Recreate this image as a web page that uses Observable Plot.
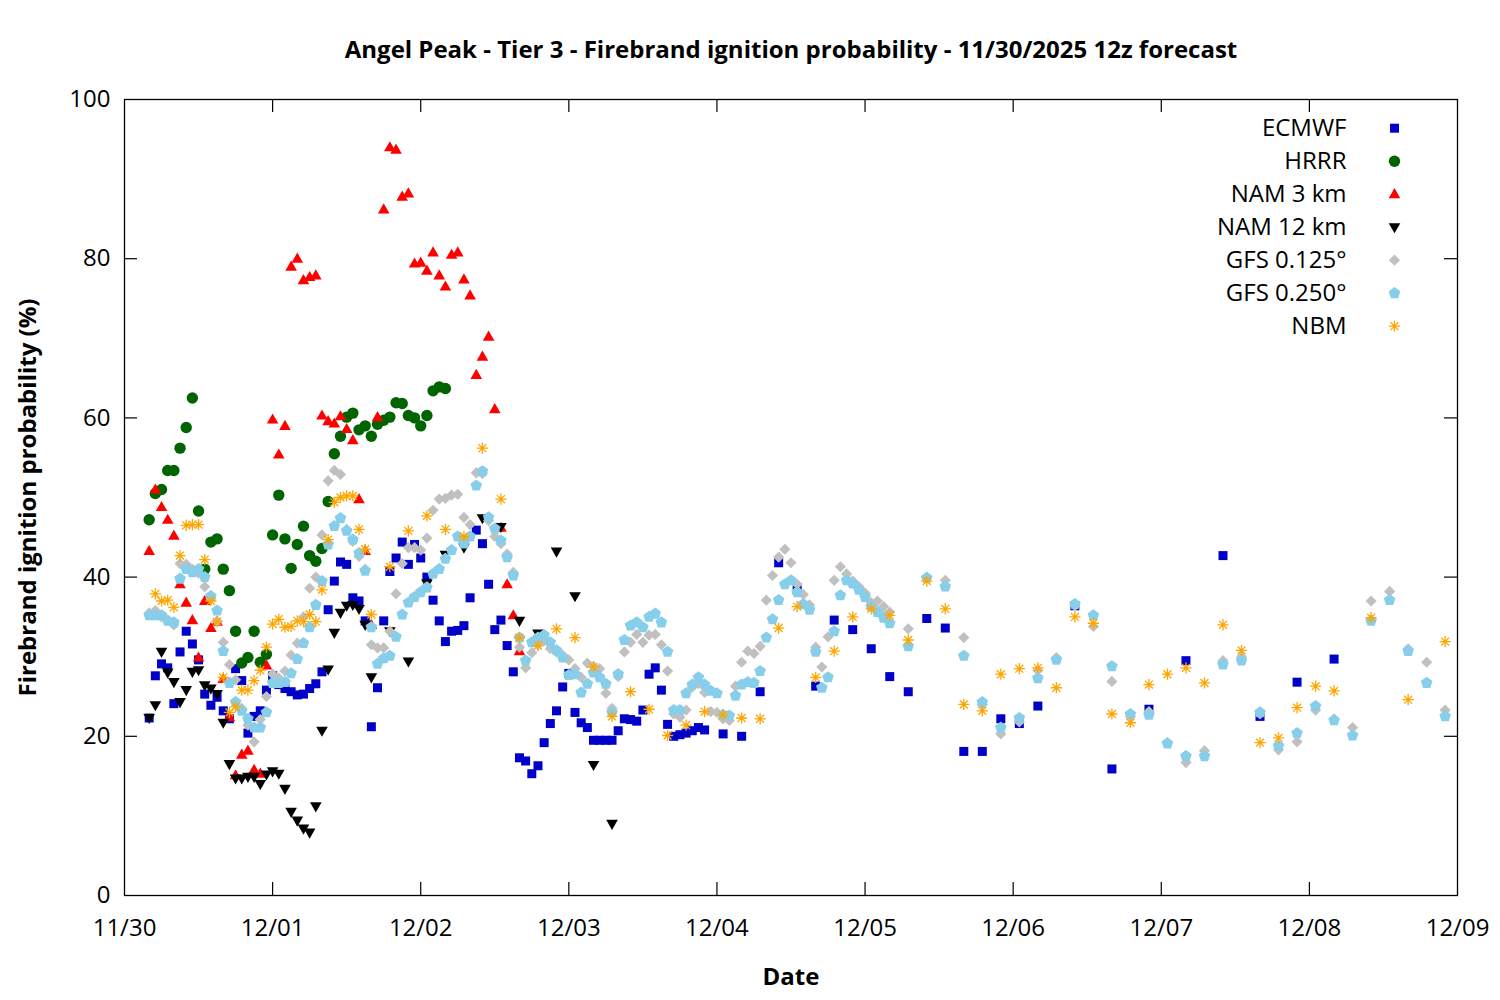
<!DOCTYPE html>
<html><head><meta charset="utf-8">
<script src="https://cdn.jsdelivr.net/npm/d3@7"></script>
<script src="https://cdn.jsdelivr.net/npm/@observablehq/plot@0.6"></script>
<style>body{margin:0;background:#fff;} svg{display:block}</style>
</head><body><div id="chart"></div>
<script>
// ---- Data (hours after 11/30 00:00 local, probability %) ----
const ecmwfHours = [...d3.range(4,95), ...d3.range(97,149,3), ...d3.range(154,197,6)];
const ecmwfValues = [
22.3,27.6,29.1,28.6,24.1,30.6,33.2,31.6,29.6,25.3,
23.9,24.9,23.2,22.2,28.5,27.0,20.4,22.5,23.2,25.8,
27.6,26.5,26.0,25.6,25.2,25.3,26.0,26.6,28.1,35.9,
39.5,41.9,41.6,37.4,37.0,34.5,21.2,26.1,34.5,40.7,
42.4,44.4,41.6,44.1,42.4,40.0,37.1,34.5,31.9,33.2,
33.3,33.9,37.4,45.9,44.2,39.1,33.4,34.6,31.4,28.1,
17.3,16.9,15.3,16.3,19.2,21.6,23.2,26.2,27.9,23.0,
21.7,21.1,19.5,19.5,19.5,19.5,20.7,22.2,22.1,21.9,
23.3,27.8,28.6,25.8,21.5,20.0,20.2,20.4,20.7,21.1,
20.8,
20.3,20.0,25.6,41.8,38.4,26.3,34.6,33.4,31.0,27.5,25.6,34.8,33.6,18.1,18.1,22.2,21.6,23.8,
36.4,15.9,23.4,29.5,42.7,22.5,26.8,29.7];

const hrrrHours = d3.range(4,53);
const hrrrValues = [
47.2,50.5,51.0,53.4,53.4,56.2,58.8,62.5,48.3,41.0,
44.4,44.8,41.0,38.3,33.2,29.2,29.9,33.2,29.3,30.3,
45.3,50.3,44.8,41.1,44.1,46.4,42.7,42.0,43.6,49.5,
55.5,57.7,60.1,60.6,58.5,59.0,57.7,59.2,59.7,60.1,
61.9,61.8,60.3,60.0,59.0,60.3,63.4,63.9,63.7];

const nam3Hours = d3.range(4,65);
const nam3Values = [
43.3,51.0,48.8,47.2,45.2,39.1,36.8,34.6,29.9,37.0,
33.6,34.4,27.2,22.4,15.1,17.7,18.2,15.8,15.3,28.9,
59.8,55.4,59.0,79.0,80.0,77.3,77.7,77.9,60.3,59.6,
59.3,60.2,58.6,57.2,49.8,43.3,34.0,60.1,86.2,94.0,
93.7,87.8,88.2,79.4,79.5,78.5,80.8,77.9,76.5,80.5,
80.8,77.4,75.4,65.4,67.7,70.2,61.1,46.2,39.1,35.2,
30.7];

const nam12Hours = [...d3.range(4,41), ...d3.range(43,80,3)];
const nam12Values = [
22.3,23.9,30.6,28.0,26.8,24.3,25.8,28.1,28.3,26.4,
26.0,25.3,21.7,16.5,14.7,14.7,14.9,14.9,14.0,15.2,
15.6,15.3,13.4,10.5,9.4,8.4,7.9,11.2,20.7,28.4,
33.0,35.5,36.4,36.5,36.0,34.0,27.4,
33.2,29.4,39.2,42.8,43.7,47.4,46.3,34.5,32.9,43.2,37.6,16.4,9.0];

const gfsHours = [...d3.range(4,125), ...d3.range(127,215,3)];
const gfs0125Values = [
35.5,35.8,35.0,34.6,34.0,41.7,41.6,41.0,40.5,38.8,
37.3,34.5,31.8,29.0,27.1,23.5,21.4,19.3,22.1,25.0,
27.8,27.3,28.2,30.2,31.7,35.0,38.6,40.0,45.3,52.1,
53.4,52.9,46.0,44.5,42.6,41.0,31.5,31.1,31.1,33.2,
37.9,41.7,43.7,43.7,43.4,44.9,48.4,49.8,49.9,50.3,
50.4,47.5,46.6,53.1,53.0,47.1,45.1,44.2,42.9,40.6,
31.2,28.6,30.5,31.5,32.0,31.0,30.6,30.2,29.6,28.5,
27.4,29.2,28.8,28.5,25.4,23.5,27.5,30.6,31.8,32.8,
31.8,32.7,32.8,31.5,28.2,22.8,22.4,23.3,26.2,26.6,
25.5,23.1,23.0,22.2,22.0,26.3,29.3,30.7,30.4,31.3,
37.1,40.2,42.5,43.5,41.8,39.1,37.8,36.5,31.2,28.7,
32.5,39.6,41.3,40.4,39.5,38.8,38.0,36.8,37.0,36.3,35.6,
33.5,40.0,39.6,32.4,24.0,20.3,21.8,28.3,29.9,36.4,33.8,26.9,22.5,23.1,19.2,
16.7,18.2,29.5,30.0,22.8,18.3,19.3,23.3,22.2,21.1,37.0,38.2,31.0,29.3,23.3];
const gfs0250Values = [
35.2,35.2,35.2,34.5,34.3,39.8,41.0,40.6,41.0,40.0,
37.6,35.8,30.7,26.7,24.3,23.2,22.2,21.1,21.1,23.0,
26.7,26.7,26.8,27.9,29.7,31.7,33.7,36.5,39.5,44.1,
46.4,47.4,45.8,44.7,43.0,40.8,33.7,29.1,29.8,30.1,
32.5,35.3,36.8,37.5,38.1,38.7,40.4,41.0,42.3,43.4,
45.1,44.2,45.1,51.5,53.3,47.5,46.1,44.6,42.5,40.2,
32.4,29.5,31.8,32.4,32.7,31.8,30.8,29.9,27.7,27.8,
25.5,26.6,28.0,27.4,26.6,23.0,27.8,32.1,33.9,34.3,
33.7,35.0,35.4,34.3,30.6,23.3,23.3,25.4,26.5,27.4,
26.5,25.7,25.4,22.7,22.6,25.1,26.5,26.8,26.7,28.2,
32.4,34.7,37.1,39.1,39.6,38.1,36.6,35.9,30.6,26.1,
27.4,33.2,37.7,39.6,39.2,38.4,37.5,36.3,35.6,34.9,34.2,
31.3,39.9,38.8,30.1,24.3,21.1,22.3,27.3,29.6,36.6,35.2,28.8,22.8,22.7,19.1,
17.5,17.5,29.0,29.5,23.0,18.8,20.4,23.8,22.0,20.1,34.5,37.1,30.7,26.7,22.5];

const nbmHours = [...d3.range(5,41), ...d3.range(43,197,3), ...d3.range(202,215,6)];
const nbmValues = [
37.9,37.0,37.1,36.2,42.7,46.5,46.6,46.6,42.2,37.0,
34.4,27.4,23.0,23.7,25.8,25.8,27.0,28.3,31.2,34.1,
34.7,33.7,33.8,34.5,34.4,35.3,34.4,38.4,44.7,49.4,
50.0,50.2,50.2,46.0,43.5,35.3,
41.3,45.8,47.7,46.0,45.1,56.2,49.8,32.4,31.4,33.5,
32.4,28.7,22.5,25.6,23.4,20.1,21.4,23.1,22.7,22.3,
22.2,33.6,36.3,27.4,30.7,35.0,36.0,35.2,32.1,39.5,
36.0,24.0,23.2,27.8,28.5,28.6,26.1,35.0,34.2,22.8,
21.7,26.5,27.8,28.6,26.7,34.0,30.8,19.2,19.8,23.6,
26.3,25.7,
34.9,24.6,31.9];

const seriesNames = ["ECMWF","HRRR","NAM 3 km","NAM 12 km","GFS 0.125°","GFS 0.250°","NBM"];
const dayLabels = ["11/30","12/01","12/02","12/03","12/04","12/05","12/06","12/07","12/08","12/09"];
const yTicks = [0,20,40,60,80,100];
const titleText = "Angel Peak - Tier 3 - Firebrand ignition probability - 11/30/2025 12z forecast";
const xLabel = "Date";
const yLabel = "Firebrand ignition probability (%)";

// ---- Build ----
const t0 = Date.UTC(2025,10,30);
const toDate = h => new Date(t0 + h*3600e3);
const mk = (hours, values) => {
  if (hours.length !== values.length) console.error("length mismatch", hours.length, values.length);
  return hours.map((h,i)=>({t: toDate(h), v: values[i]}));
};
const sym = f => ({draw(c, size){ const r = Math.sqrt(size/Math.PI); f(c, r); }});
const symSquare = sym((c,r)=>{c.moveTo(-r,-r);c.lineTo(r,-r);c.lineTo(r,r);c.lineTo(-r,r);c.closePath();});
const symCircle = sym((c,r)=>{c.moveTo(r,0);c.arc(0,0,r,0,2*Math.PI);});
const symUp = sym((c,r)=>{c.moveTo(0,-r*1.05);c.lineTo(r,r*0.7);c.lineTo(-r,r*0.7);c.closePath();});
const symDown = sym((c,r)=>{c.moveTo(0,r*1.05);c.lineTo(r,-r*0.7);c.lineTo(-r,-r*0.7);c.closePath();});
const symDiamond = sym((c,r)=>{c.moveTo(0,-r);c.lineTo(r,0);c.lineTo(0,r);c.lineTo(-r,0);c.closePath();});
const symPent = sym((c,r)=>{for(let k=0;k<5;k++){const a=-Math.PI/2+k*2*Math.PI/5;const x=r*Math.cos(a),y=r*Math.sin(a);k?c.lineTo(x,y):c.moveTo(x,y);}c.closePath();});
const symStar = sym((c,r)=>{for(let k=0;k<4;k++){const a=k*Math.PI/4;c.moveTo(r*Math.cos(a),r*Math.sin(a));c.lineTo(-r*Math.cos(a),-r*Math.sin(a));}});

const series = [
  {data: mk(ecmwfHours, ecmwfValues), symbol: symSquare, r: 4.5, fill: "#0000c8"},
  {data: mk(hrrrHours, hrrrValues), symbol: symCircle, r: 5.7, fill: "#006400"},
  {data: mk(nam3Hours, nam3Values), symbol: symUp, r: 5.8, fill: "#ff0000"},
  {data: mk(nam12Hours, nam12Values), symbol: symDown, r: 5.8, fill: "#000000"},
  {data: mk(gfsHours, gfs0125Values), symbol: symDiamond, r: 5.6, fill: "#c0c0c0"},
  {data: mk(gfsHours, gfs0250Values), symbol: symPent, r: 6.1, fill: "#87ceeb"},
  {data: mk(nbmHours, nbmValues), symbol: symStar, r: 5.6, stroke: "#ffa500"}
];

const dayTicks = dayLabels.map((d,i)=>new Date(t0 + i*864e5));
const FS = 24;
const marks = [];
series.forEach(s=>{
  marks.push(Plot.dot(s.data, {x:"t", y:"v", symbol: s.symbol, r: s.r,
    fill: s.fill || "none", stroke: s.stroke || "none", strokeWidth: s.stroke ? 1.3 : 0}));
});
// legend
series.forEach((s,i)=>{
  marks.push(Plot.text([seriesNames[i]], {text: d=>d, frameAnchor:"top-right", lineAnchor:"middle", dx:-111, dy:28.7+33*i, textAnchor:"end", fontSize:FS}));
  marks.push(Plot.dot([0], {frameAnchor:"top-right", dx:-63, dy:28.7+33*i, symbol: s.symbol, r: s.r,
    fill: s.fill || "none", stroke: s.stroke || "none", strokeWidth: s.stroke ? 1.3 : 0}));
});
// ticks (inward, mirrored)
const inner = dayTicks.slice(1,-1);
marks.push(Plot.ruleX(inner, {x:d=>d, insetTop: 796-13, stroke:"black", strokeWidth:1.2}));
marks.push(Plot.ruleX(inner, {x:d=>d, insetBottom: 796-13, stroke:"black", strokeWidth:1.2}));
const innerY = yTicks.slice(1,-1);
marks.push(Plot.ruleY(innerY, {y:d=>d, insetRight: 1333-13, stroke:"black", strokeWidth:1.2}));
marks.push(Plot.ruleY(innerY, {y:d=>d, insetLeft: 1333-13, stroke:"black", strokeWidth:1.2}));
marks.push(Plot.frame({stroke:"black", strokeWidth:1.3}));
// tick labels
marks.push(Plot.text(dayTicks, {x:d=>d, text:(d,i)=>dayLabels[i], frameAnchor:"bottom", lineAnchor:"middle", dy:33, fontSize:FS}));
marks.push(Plot.text(yTicks, {y:d=>d, text:d=>String(d), frameAnchor:"left", lineAnchor:"middle", dx:-14, textAnchor:"end", fontSize:FS}));
// titles
marks.push(Plot.text([titleText], {text:d=>d, frameAnchor:"top", lineAnchor:"middle", dy:-49, fontWeight:"bold", fontSize:FS}));
marks.push(Plot.text([xLabel], {text:d=>d, frameAnchor:"bottom", lineAnchor:"middle", dy:82, fontWeight:"bold", fontSize:FS}));
marks.push(Plot.text([yLabel], {text:d=>d, frameAnchor:"left", lineAnchor:"middle", textAnchor:"middle", dx:-96, rotate:-90, fontWeight:"bold", fontSize:FS}));

const chart = Plot.plot({
  width:1500, height:1000,
  marginLeft:124, marginRight:43, marginTop:99, marginBottom:105,
  style:{fontFamily:"'Open Sans', sans-serif", fontSize:FS+"px", background:"white", color:"black"},
  x:{type:"utc", domain:[new Date(t0), new Date(t0+9*864e5)], axis:null},
  y:{domain:[0,100], axis:null},
  marks
});
document.getElementById("chart").appendChild(chart);
</script></body></html>
